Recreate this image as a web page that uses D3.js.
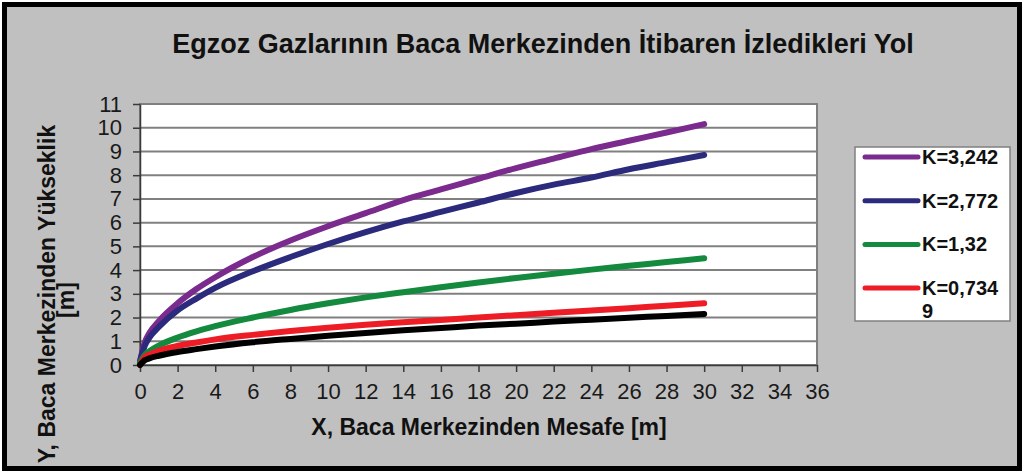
<!DOCTYPE html>
<html lang="tr">
<head>
  <meta charset="utf-8">
  <title>Egzoz Gazlarının Baca Merkezinden İtibaren İzledikleri Yol</title>
  <script src="https://d3js.org/d3.v7.min.js"></script>
  <style>
    body { margin: 0; background: #fff; }
    text { font-family: Arial, "Liberation Sans", sans-serif; fill: #111; }
    .axis path, .axis line { stroke: #3a3a3a; stroke-width: 1.5; }
    .axis text { font-size: 22px; fill: #1a1a1a; }
  </style>
</head>
<body>
<script>
  // distances from stack centre (m)
  var xs = [0, 0.25, 0.5, 1, 2, 3, 4, 6, 8, 10, 12, 14, 16, 18, 20, 22, 24, 26, 28, 30];

  // heights (m) for each K
  var k3242 = [0.15, 0.95, 1.35, 1.85, 2.6, 3.2, 3.7, 4.55, 5.25, 5.85, 6.4, 6.95, 7.4, 7.85, 8.3, 8.7, 9.1, 9.45, 9.8, 10.15];
  var k2772 = [0.15, 0.8, 1.15, 1.6, 2.3, 2.8, 3.25, 3.95, 4.55, 5.1, 5.6, 6.05, 6.45, 6.85, 7.25, 7.6, 7.9, 8.25, 8.55, 8.85];
  var k132  = [0.1, 0.42, 0.58, 0.82, 1.16, 1.42, 1.64, 2.0, 2.32, 2.6, 2.85, 3.07, 3.28, 3.48, 3.67, 3.85, 4.02, 4.18, 4.34, 4.5];
  var k07349 = [0, 0.33, 0.44, 0.6, 0.8, 0.95, 1.08, 1.27, 1.43, 1.57, 1.7, 1.8, 1.9, 2.0, 2.1, 2.2, 2.3, 2.39, 2.5, 2.6];
  var kBlack = [0, 0.2, 0.28, 0.39, 0.55, 0.67, 0.78, 0.96, 1.1, 1.23, 1.35, 1.46, 1.56, 1.66, 1.74, 1.83, 1.91, 1.99, 2.07, 2.15];

  var seriesNames = ["K=3,242", "K=2,772", "K=1,32", "K=0,7349", ""];
  var seriesColors = ["#7b2a8e", "#2b2a7c", "#138a3e", "#ee1c25", "#000000"];
  var seriesValues = [k3242, k2772, k132, k07349, kBlack];

  var xTicks = d3.range(0, 37, 2);
  var yTicks = d3.range(0, 12, 1);

  var W = 1029, H = 473;
  var plotLeft = 140, plotRight = 817, plotTop = 104, plotBottom = 365;

  var svg = d3.select("body").append("svg")
    .attr("width", W)
    .attr("height", H);

  // chart frame
  svg.append("rect")
    .attr("x", 4.5).attr("y", 4.5)
    .attr("width", 1015).attr("height", 464)
    .attr("fill", "#c0c0c0")
    .attr("stroke", "#000")
    .attr("stroke-width", 5);

  var x = d3.scaleLinear().domain([0, 36]).range([plotLeft, plotRight]);
  var y = d3.scaleLinear().domain([0, 11]).range([plotBottom, plotTop]);

  // plot area
  svg.append("rect")
    .attr("x", plotLeft).attr("y", plotTop)
    .attr("width", plotRight - plotLeft).attr("height", plotBottom - plotTop)
    .attr("fill", "#fff")
    .attr("stroke", "#808080")
    .attr("stroke-width", 2);

  svg.append("g").selectAll("line")
    .data(yTicks.slice(1))
    .enter().append("line")
    .attr("x1", plotLeft).attr("x2", plotRight)
    .attr("y1", function(d) { return y(d); })
    .attr("y2", function(d) { return y(d); })
    .attr("stroke", "#808080")
    .attr("stroke-width", 2);

  svg.append("g")
    .attr("class", "axis")
    .attr("transform", "translate(0," + plotBottom + ")")
    .call(d3.axisBottom(x).tickValues(xTicks).tickSize(7).tickPadding(11).tickSizeOuter(0));

  svg.append("g")
    .attr("class", "axis")
    .attr("transform", "translate(" + plotLeft + ",0)")
    .call(d3.axisLeft(y).tickValues(yTicks).tickSize(7).tickPadding(11).tickSizeOuter(0));

  // curves
  var line = d3.line()
    .x(function(d, i) { return x(xs[i]); })
    .y(function(d) { return y(d); })
    .curve(d3.curveMonotoneX);

  svg.append("g").selectAll("path")
    .data(seriesValues)
    .enter().append("path")
    .attr("d", line)
    .attr("fill", "none")
    .attr("stroke", function(d, i) { return seriesColors[i]; })
    .attr("stroke-width", 6)
    .attr("stroke-linecap", "round")
    .attr("stroke-linejoin", "round");

  // titles
  svg.append("text")
    .attr("x", 543).attr("y", 53)
    .attr("text-anchor", "middle")
    .style("font-size", "27px").style("font-weight", "bold")
    .text("Egzoz Gazlarının Baca Merkezinden İtibaren İzledikleri Yol");

  svg.append("text")
    .attr("x", 489).attr("y", 435)
    .attr("text-anchor", "middle")
    .style("font-size", "23px").style("font-weight", "bold")
    .text("X, Baca Merkezinden Mesafe [m]");

  svg.append("text")
    .attr("transform", "translate(55,294) rotate(-90)")
    .attr("text-anchor", "middle")
    .style("font-size", "23px").style("font-weight", "bold")
    .text("Y, Baca Merkezinden Yükseklik");

  svg.append("text")
    .attr("transform", "translate(74,300) rotate(-90)")
    .attr("text-anchor", "middle")
    .style("font-size", "23px").style("font-weight", "bold")
    .text("[m]");

  // legend (black series has no entry)
  var lg = svg.append("g");
  lg.append("rect")
    .attr("x", 855).attr("y", 147)
    .attr("width", 155).attr("height", 174)
    .attr("fill", "#fff")
    .attr("stroke", "#808080")
    .attr("stroke-width", 1.5);

  var items = lg.selectAll("g.item")
    .data(seriesNames.slice(0, 4))
    .enter().append("g")
    .attr("class", "item")
    .attr("transform", function(d, i) { return "translate(0," + (157 + i * 43.7) + ")"; });

  items.append("line")
    .attr("x1", 865).attr("x2", 918)
    .attr("stroke", function(d, i) { return seriesColors[i]; })
    .attr("stroke-width", 5)
    .attr("stroke-linecap", "round");

  items.append("text")
    .attr("x", 922).attr("y", 7)
    .style("font-size", "20px").style("font-weight", "bold")
    .each(function(d) {
      var t = d3.select(this);
      if (d === "K=0,7349") {
        t.append("tspan").attr("x", 922).text("K=0,734");
        t.append("tspan").attr("x", 922).attr("dy", 23).text("9");
      } else {
        t.text(d);
      }
    });
</script>
</body>
</html>
